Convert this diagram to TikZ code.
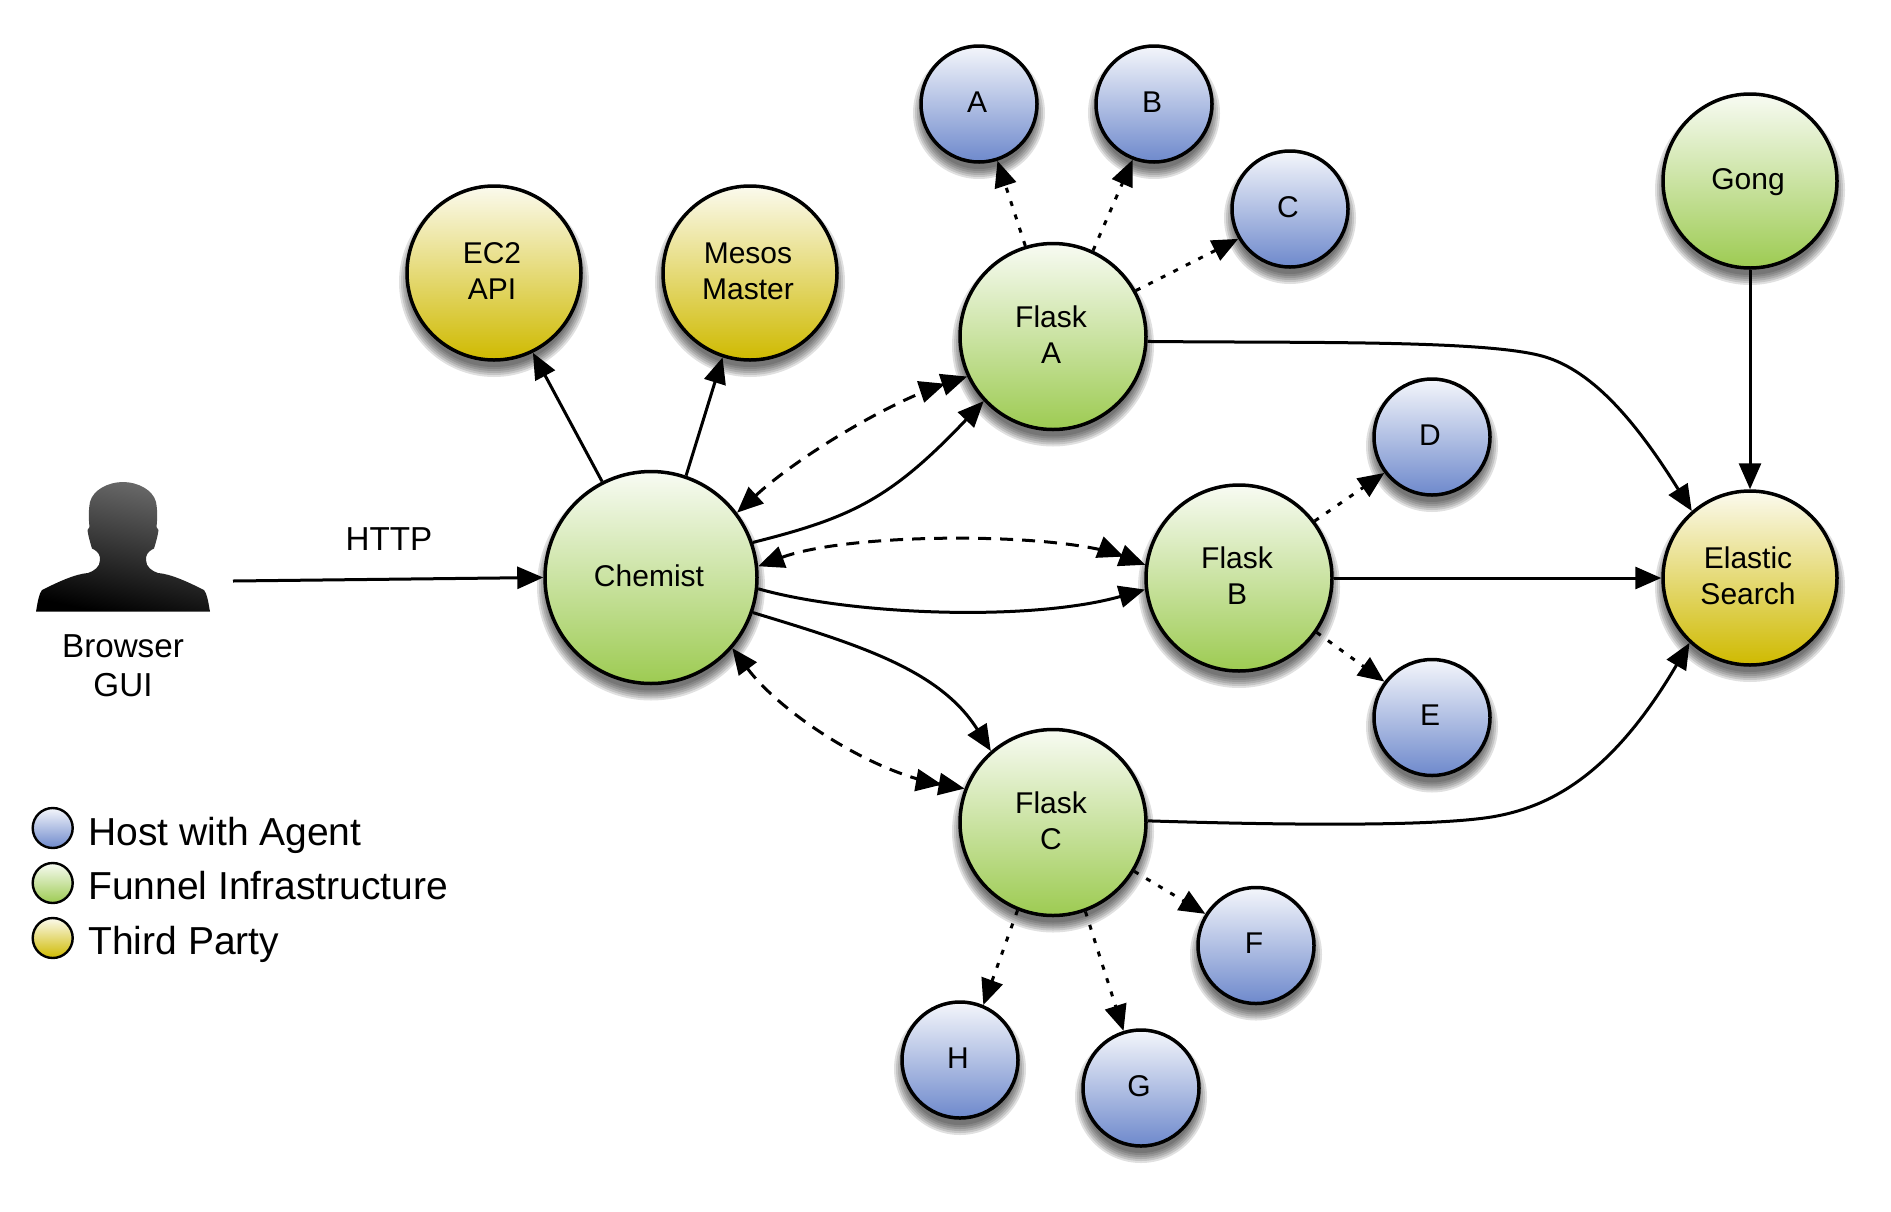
\documentclass[tikz,border=0pt]{standalone}
\usepackage{fontspec}
\setmainfont{Liberation Sans}
\usetikzlibrary{arrows.meta}
\definecolor{hostbot}{HTML}{6E89CC}
\definecolor{hosttop}{HTML}{F4F6FB}
\definecolor{funbot}{HTML}{9DCB52}
\definecolor{funtop}{HTML}{F8FBF3}
\definecolor{thirdbot}{HTML}{CFBA00}
\definecolor{thirdtop}{HTML}{FBFAEE}
\tikzset{
  bubble/.style={circle,draw=black,line width=1.75pt,inner sep=0pt,minimum size=#1*1pt,shading=axis},
  bubbletext/.style={inner sep=0pt,align=center,font=\fontsize{15}{18}\selectfont},
  hostcol/.style={top color=hosttop,bottom color=hostbot},
  funcol/.style={top color=funtop,bottom color=funbot},
  thirdcol/.style={top color=thirdtop,bottom color=thirdbot},
  tipone/.tip={Triangle[length=13pt,width=11pt]},
  link/.style={line width=1.5pt,-tipone},
  duplex/.style={line width=1.5pt,dash pattern=on 6.5pt off 4.5pt,tipone-{tipone[sep=-1.5pt]tipone}},
  probe/.style={line width=1.5pt,dash pattern=on 2.5pt off 4.5pt,-tipone},
  label/.style={font=\fontsize{16.6}{19.5}\selectfont,align=center,inner sep=0pt},
  legendtext/.style={font=\fontsize{19.5}{22}\selectfont,anchor=base west,inner sep=0pt},
}
\newcommand{\hub}[6]{%
  \foreach \dd in {-2,0,2,4,6,8}{\fill[black,opacity=.12] (#2,#3+9) circle[radius=#4+\dd];}
  \node[bubble=#4,#5] (#1) at (#2,#3) {};
  \node[bubbletext] (#1text) at (#2-2,#3-2) {#6};}
\begin{document}
\begin{tikzpicture}[x=0.5pt,y=-0.5pt]
\useasboundingbox (0,0) rectangle (1891,1211);
% browser silhouette
\shade[top color=black!58,bottom color=black,shading angle=-12]
  (36,611.7) .. controls (38,600) and (39,594) .. (42,590)
  .. controls (58,582) and (75,574) .. (88,573)
  .. controls (94,571) and (100,567) .. (100,560)
  .. controls (100,555) and (99,552) .. (92,548.5)
  .. controls (90,542) and (88,535) .. (87.5,530)
  .. controls (88,528) and (88.5,528) .. (89.5,527)
  .. controls (88.5,518) and (88.5,510) .. (90,502)
  .. controls (93,490) and (108,482) .. (123,482)
  .. controls (138,482) and (153,490) .. (156,502)
  .. controls (157.5,510) and (157.5,518) .. (156.5,527)
  .. controls (157.5,528) and (158,528) .. (158.5,530)
  .. controls (158,535) and (156,542) .. (154,548.5)
  .. controls (147,552) and (146,555) .. (146,560)
  .. controls (146,567) and (152,571) .. (158,573)
  .. controls (171,574) and (188,582) .. (204,590)
  .. controls (207,594) and (208,600) .. (210,611.7) -- cycle;
\coordinate (browserout) at (233,581);
\node[label] (browser) at (123,666) {Browser\\GUI};
\node[label] (http) at (389,539) {HTTP};
% nodes
\hub{chem}{651}{577.5}{106}{funcol}{Chemist}
\hub{flaskA}{1053}{336.5}{93}{funcol}{Flask\\A}
\hub{flaskB}{1239}{578}{93}{funcol}{Flask\\B}
\hub{flaskC}{1053}{822.5}{93}{funcol}{Flask\\C}
\hub{gong}{1750}{181}{87}{funcol}{\raisebox{0pt}[\height][0pt]{Gong}}
\hub{ec2}{494}{273}{87}{thirdcol}{EC2\\API}
\hub{mesos}{750}{273}{87}{thirdcol}{Mesos\\Master}
\hub{elastic}{1750}{578}{87}{thirdcol}{Elastic\\Search}
\hub{hostA}{979}{104}{58}{hostcol}{A}
\hub{hostB}{1154}{104}{58}{hostcol}{B}
\hub{hostC}{1290}{209}{58}{hostcol}{C}
\hub{hostD}{1432}{437}{58}{hostcol}{D}
\hub{hostE}{1432}{717.5}{58}{hostcol}{E}
\hub{hostF}{1256}{945.5}{58}{hostcol}{F}
\hub{hostG}{1141}{1088}{58}{hostcol}{G}
\hub{hostH}{960}{1060}{58}{hostcol}{H}
% legend
\node[bubble=20,line width=1.2pt,hostcol] (keyhost) at (52.7,828) {};
\node[bubble=20,line width=1.2pt,funcol] (keyfun) at (52.7,883) {};
\node[bubble=20,line width=1.2pt,thirdcol] (keythird) at (52.7,938) {};
\node[legendtext] (txthost) at (88,845) {Host with Agent};
\node[legendtext] (txtfun) at (88,899) {Funnel Infrastructure};
\node[legendtext] (txtthird) at (88,954) {Third Party};
% connectors
\draw[link] (browserout) -- (chem.180);
\draw[link] (chem.117.4) -- (ec2.-64);
\draw[link] (chem.71.6) -- (mesos.-108);
\draw[duplex] (chem.37.9) .. controls (800,455) and (890,402) .. (flaskA.205);
\draw[link] (chem.19) .. controls (850,518) and (890,500) .. (flaskA.223.7);
\draw[duplex] (chem.6.3) .. controls (850,532) and (1060,532) .. (flaskB.172);
\draw[link] (chem.-6.5) .. controls (850,615) and (1030,622) .. (flaskB.187);
\draw[link] (chem.-19.6) .. controls (860,645) and (940,670) .. (flaskC.131.7);
\draw[duplex] (chem.-41.3) .. controls (780,712) and (870,772) .. (flaskC.159.5);
\draw[link] (flaskA.-3) .. controls (1300,343) and (1475,340) .. (1538,355)
   .. controls (1590,367) and (1635,420) .. (elastic.131);
\draw[link] (flaskB.0) -- (elastic.180);
\draw[link] (flaskC.1.5) .. controls (1280,825) and (1440,827) .. (1497,816)
   .. controls (1555,805) and (1615,770) .. (elastic.227);
\draw[link] (gong.-90) -- (elastic.90);
\draw[probe] (flaskA.107.7) -- (hostA.-72.6);
\draw[probe] (flaskA.65.7) -- (hostB.-111.6);
\draw[probe] (flaskA.29.5) -- (hostC.210);
\draw[probe] (flaskB.37.3) -- (hostD.217);
\draw[probe] (flaskB.-35.9) -- (hostE.143.8);
\draw[probe] (flaskC.-31.5) -- (hostF.148.8);
\draw[probe] (flaskC.-70.9) -- (hostG.107);
\draw[probe] (flaskC.-112.7) -- (hostH.67.4);
\end{tikzpicture}
\end{document}
